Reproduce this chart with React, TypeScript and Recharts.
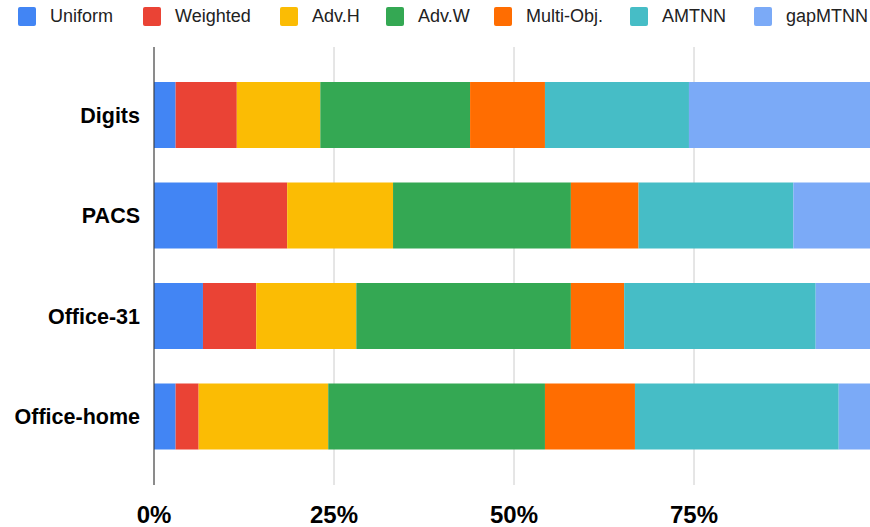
import React from 'react';
import { BarChart, Bar, XAxis, YAxis, CartesianGrid } from 'recharts';

const categories = ['Digits', 'PACS', 'Office-31', 'Office-home'];
const seriesNames = ['Uniform', 'Weighted', 'Adv.H', 'Adv.W', 'Multi-Obj.', 'AMTNN', 'gapMTNN'];
const uniform = [3.0, 8.8, 6.8, 3.0];
const weighted = [8.5, 9.7, 7.4, 3.2];
const advH = [11.6, 14.7, 13.9, 18.0];
const advW = [20.8, 24.7, 29.8, 30.1];
const multiObj = [10.4, 9.4, 7.4, 12.5];
const amtnn = [20.0, 21.5, 26.6, 28.3];
const gapMtnn = [25.7, 11.2, 8.1, 4.9];
const xTicks = [0, 0.25, 0.5, 0.75];

const seriesValues = [uniform, weighted, advH, advW, multiObj, amtnn, gapMtnn];
const colors = ['#4285F4', '#EA4335', '#FBBC04', '#34A853', '#FF6D01', '#46BDC6', '#7BAAF7'];
const legendX = [18, 143, 280, 386, 494, 630, 754];

const data = categories.map((name, i) => {
  const row: Record<string, string | number> = { name };
  seriesNames.forEach((s, j) => {
    row[s] = seriesValues[j][i];
  });
  return row;
});

const FONT = '"Liberation Sans", Arial, sans-serif';

export default function App() {
  return (
    <div
      style={{
        position: 'fixed',
        top: 0,
        left: 0,
        width: 870,
        height: 527,
        overflow: 'hidden',
        background: '#fff',
        fontFamily: FONT,
      }}
    >
      <div style={{ position: 'absolute', top: 0, left: 0, width: 870, height: 34 }}>
        {seriesNames.map((s, j) => (
          <div
            key={s}
            style={{
              position: 'absolute',
              left: legendX[j],
              top: 7,
              height: 19,
              display: 'flex',
              alignItems: 'center',
              whiteSpace: 'nowrap',
            }}
          >
            <div
              style={{
                width: 18,
                height: 19,
                borderRadius: 2,
                background: colors[j],
                marginRight: 14,
              }}
            />
            <span style={{ fontSize: 18, color: '#222', fontFamily: FONT }}>{s}</span>
          </div>
        ))}
      </div>
      <div style={{ position: 'absolute', top: 0, left: 0 }}>
        <BarChart
          width={900}
          height={527}
          data={data}
          layout="vertical"
          stackOffset="expand"
          margin={{ top: 47, right: 26, bottom: 0, left: 0 }}
        >
          <CartesianGrid horizontal={false} stroke="#cccccc" />
          <XAxis
            type="number"
            domain={[0, 1]}
            ticks={xTicks}
            tickFormatter={(v: number) => `${Math.round(v * 100)}%`}
            axisLine={false}
            tickLine={false}
            tickSize={0}
            tickMargin={21}
            height={42}
            interval={0}
            tick={{ fontSize: 24, fontWeight: 'bold', fill: '#000', fontFamily: FONT }}
          />
          <YAxis
            type="category"
            dataKey="name"
            width={154}
            padding={{ top: 18, bottom: 18 }}
            axisLine={{ stroke: '#333333', strokeWidth: 1 }}
            tickLine={false}
            tickSize={0}
            tickMargin={14}
            interval={0}
            tick={{ fontSize: 21.5, fontWeight: 'bold', fill: '#000', fontFamily: FONT }}
          />
          {seriesNames.map((s, j) => (
            <Bar
              key={s}
              dataKey={s}
              stackId="a"
              fill={colors[j]}
              barSize={66}
              isAnimationActive={false}
            />
          ))}
        </BarChart>
      </div>
    </div>
  );
}
